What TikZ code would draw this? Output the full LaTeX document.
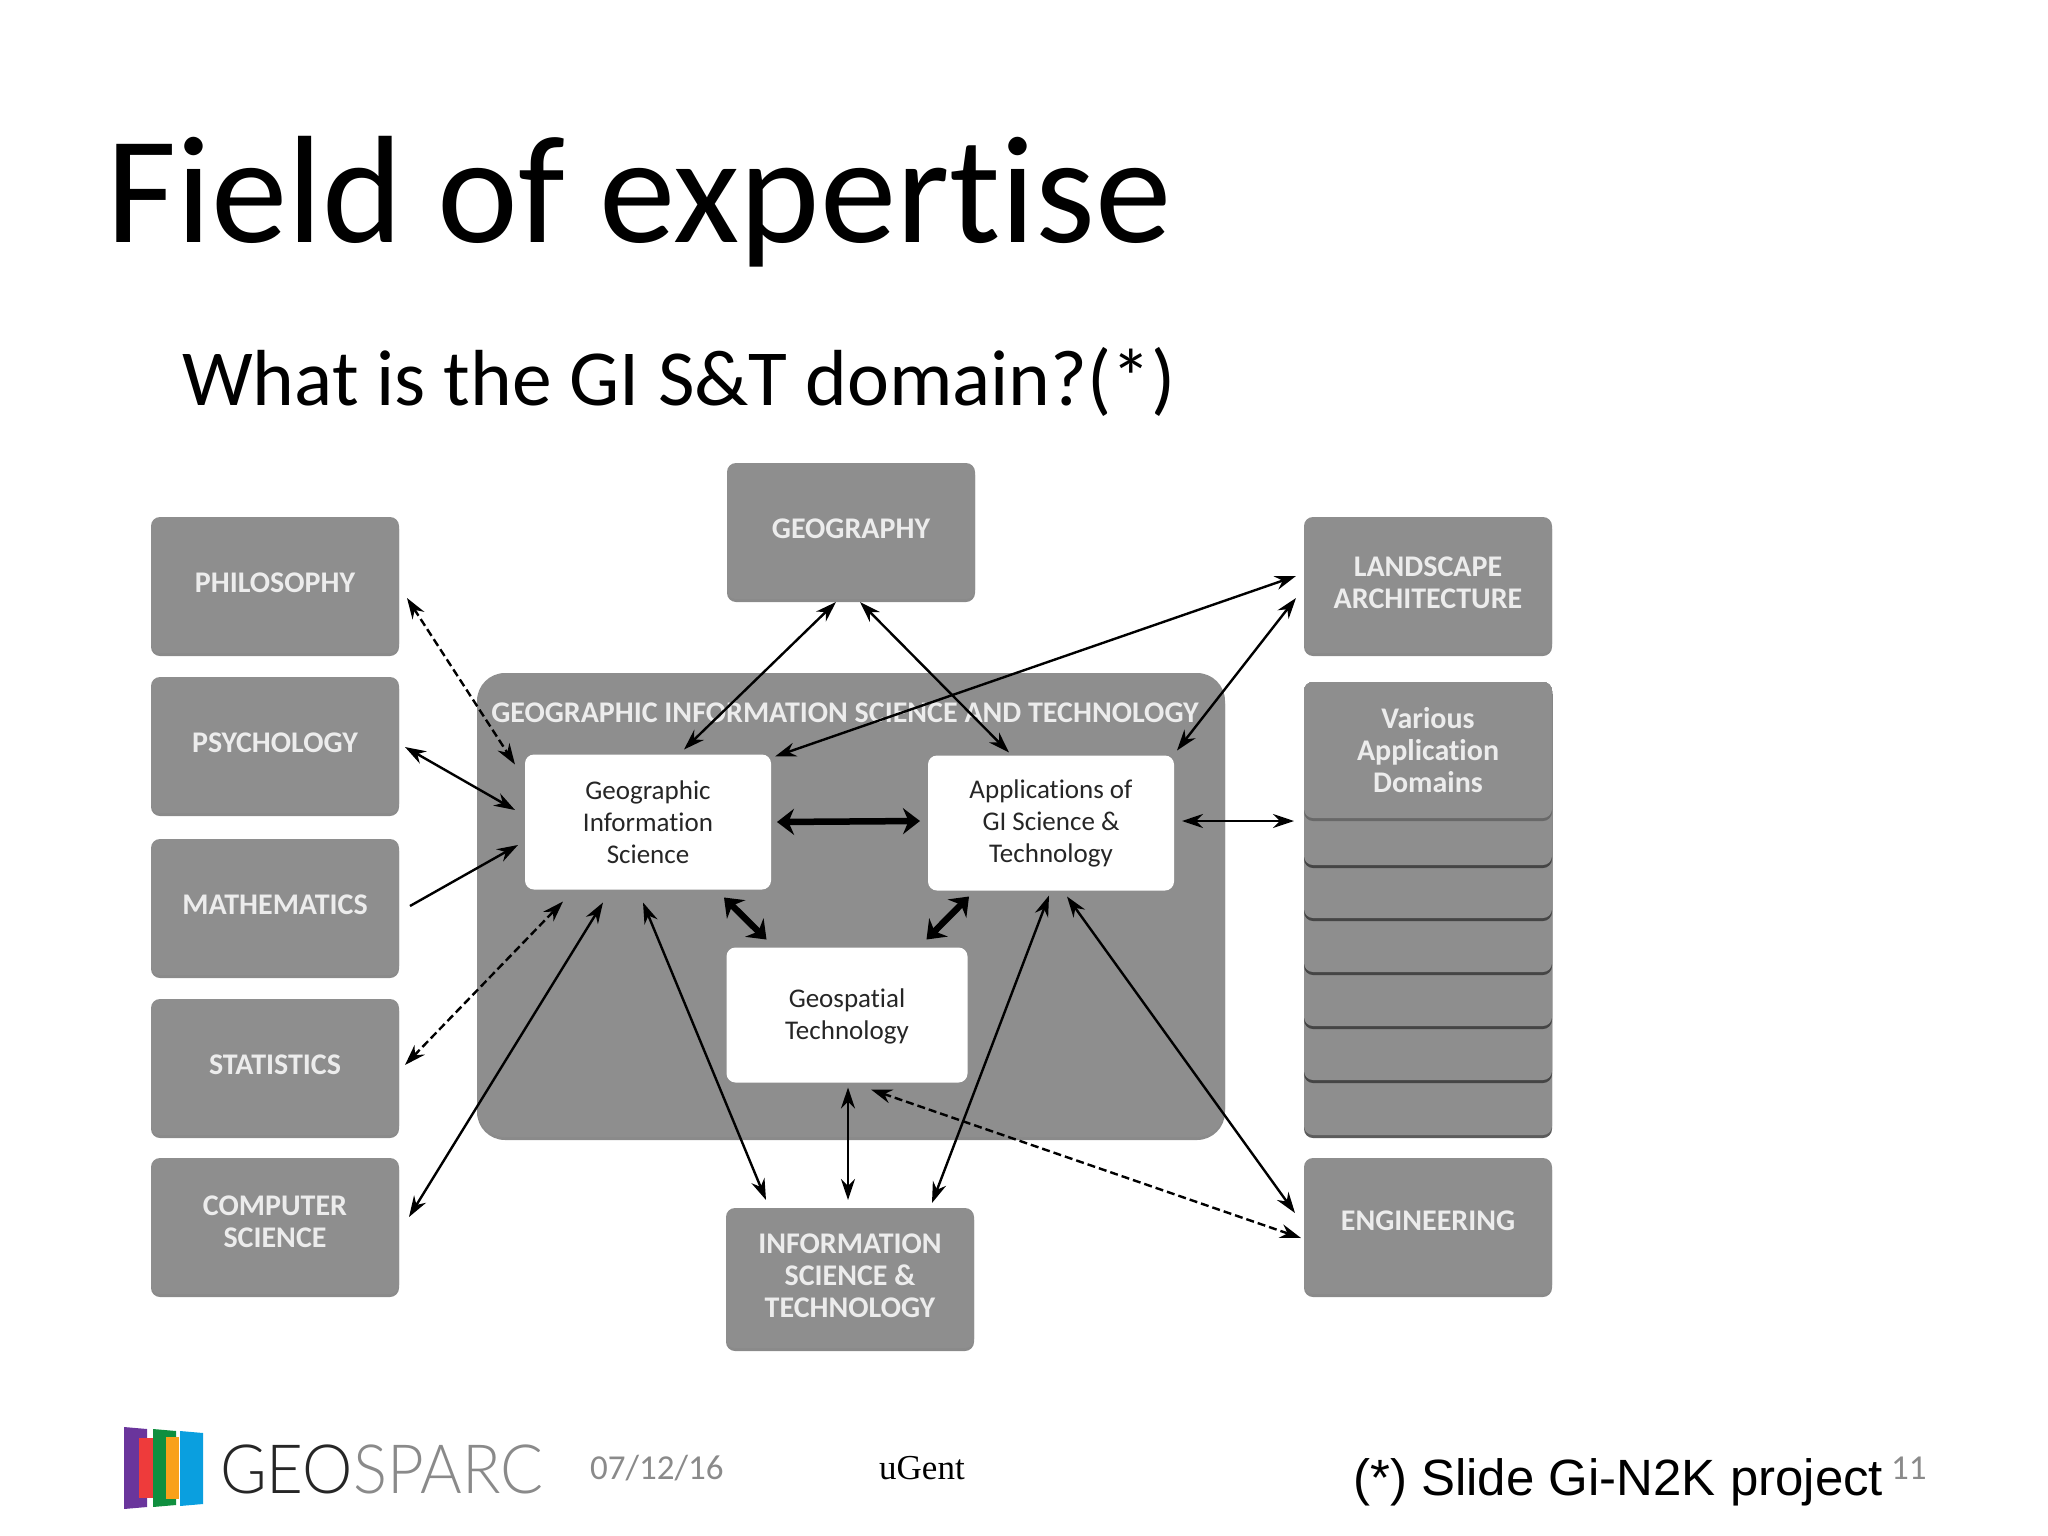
\documentclass[tikz,border=0pt]{standalone}
\usepackage{fontspec}
\setmainfont{Carlito}[Ligatures=CommonOff]
\newfontfamily\logofont{Lato Light}
\newfontfamily\arialfont{Liberation Sans}
\newfontfamily\timesfont{Liberation Serif}
\usetikzlibrary{arrows.meta}
\usetikzlibrary{shadows}
\definecolor{boxgray}{HTML}{8E8E8E}
\definecolor{labelgray}{HTML}{ECECEC}
\definecolor{footgray}{HTML}{8A8A8A}
\definecolor{logopurple}{HTML}{6A359C}
\definecolor{logored}{HTML}{EE3B3B}
\definecolor{logogreen}{HTML}{0F8F3F}
\definecolor{logoorange}{HTML}{F9A11B}
\definecolor{logoblue}{HTML}{0A9FDF}
\tikzset{
  graybox/.style={rectangle,rounded corners=9pt,fill=boxgray,inner sep=0pt,outer sep=0pt,
    minimum width=248pt,minimum height=136pt,text=labelgray,align=center,text depth=5pt,
    font=\fontsize{30}{32}\selectfont\bfseries,
    general shadow={fill=black!65,shadow yshift=-3pt,opacity=.7}},
  whitebox/.style={rectangle,rounded corners=9pt,fill=white,inner sep=0pt,outer sep=0pt,
    minimum width=246pt,minimum height=135pt,text=black!85,align=center,
    font=\fontsize{27}{32}\selectfont},
  link/.style={<->,line width=2.4pt},
  dashlink/.style={link,dash pattern=on 8pt off 4pt},
  thicklink/.style={<->,line width=6.5pt,>={Stealth[length=17pt,width=26pt]}}
}
\begin{document}
\begin{tikzpicture}[x=1pt,y=-1pt,>={Stealth[length=21pt,width=14pt]}]
  \useasboundingbox (0,0) rectangle (2048,1536);
  % slide heading
  \node[anchor=base west,inner sep=0pt,font=\fontsize{153}{155}\selectfont] (title) at (106,242) {Field of expertise};
  \node[anchor=base west,inner sep=0pt,font=\fontsize{79.5}{82}\selectfont] (subtitle) at (182,405) {What is the GI S\&T domain?(*)};
  % left column
  \node[graybox] (philosophy) at (275,585) {PHILOSOPHY};
  \node[graybox] (psychology) at (275,745) {PSYCHOLOGY};
  \node[graybox] (mathematics) at (275,907) {MATHEMATICS};
  \node[graybox] (statistics) at (275,1067) {STATISTICS};
  \node[graybox,text depth=8pt] (compsci) at (275,1226) {COMPUTER\\SCIENCE};
  % top and bottom
  \node[graybox,text depth=4pt] (geography) at (851,531) {GEOGRAPHY};
  \node[graybox,minimum height=140pt,text depth=4pt] (infosci) at (850,1278) {INFORMATION\\SCIENCE \&\\TECHNOLOGY};
  % right column
  \node[graybox] (landscape) at (1428,585) {LANDSCAPE\\ARCHITECTURE};
  \foreach \cardbottom in {1135,1080,1026,972,918,865}
    \fill[boxgray,rounded corners=9pt,general shadow={fill=black!80,shadow yshift=-3pt,opacity=.8}]
      (1304,682) rectangle (1552,\cardbottom);
  \node[graybox,text depth=0pt] (various) at (1428,750) {Various\\Application\\Domains};
  \node[graybox,text depth=10pt] (engineering) at (1428,1226) {ENGINEERING};
  % centre block
  \node[graybox,rounded corners=28pt,minimum width=748pt,minimum height=464pt] (gist) at (851,905) {};
  \node[text=labelgray,inner sep=0pt,font=\fontsize{30}{32}\selectfont\bfseries] (gisttitle) at (845,713) {GEOGRAPHIC INFORMATION SCIENCE AND TECHNOLOGY};
  \node[whitebox] (gis) at (648,822) {Geographic\\Information\\Science};
  \node[whitebox] (apps) at (1051,823) {Applications of\\GI Science \&\\Technology};
  \node[whitebox,minimum width=241pt,text depth=1pt] (geospatial) at (847,1015) {Geospatial\\Technology};
  % connectors
  \path[link]
    ([xshift=8pt,yshift=-13pt]philosophy.east) edge[dashlink] ([xshift=-10pt,yshift=-10pt]gis.north west);
  \path[link]
    ([xshift=6pt,yshift=-2pt]psychology.east) edge ([xshift=-10pt,yshift=12pt]gis.west);
  \path[->,line width=2.4pt]
    ([xshift=11pt,yshift=1pt]mathematics.east) edge ([xshift=-7pt,yshift=-23pt]gis.west);
  \path[link]
    ([xshift=6pt,yshift=2pt]statistics.east) edge[dashlink] ([xshift=38pt,yshift=-12pt]gis.south west);
  \path[link]
    ([xshift=10pt,yshift=9pt]compsci.east) edge ([xshift=-45pt,yshift=-13pt]gis.south);
  \path[link]
    ([xshift=-5pt,yshift=-13pt]gis.south) edge ([xshift=40pt,yshift=8pt]infosci.north west);
  \path[link]
    ([xshift=36pt,yshift=5pt]gis.north) edge ([xshift=-15pt,yshift=-3pt]geography.south);
  \path[link]
    ([xshift=9pt,yshift=-3pt]geography.south) edge ([xshift=-42pt,yshift=3pt]apps.north);
  \path[link]
    ([xshift=4pt,yshift=-2pt]gis.north east) edge ([xshift=-8pt,yshift=9pt]landscape.west);
  \path[link]
    ([xshift=3pt,yshift=5pt]apps.north east) edge ([xshift=-8pt,yshift=-13pt]landscape.west);
  \path[link]
    ([xshift=8pt,yshift=2pt]apps.east) edge ([xshift=-10pt,yshift=-71pt]various.west);
  \path[link]
    ([xshift=-2pt,yshift=-5pt]apps.south) edge ([xshift=-42pt,yshift=5pt]infosci.north east);
  \path[link]
    ([xshift=16pt,yshift=-6pt]apps.south) edge ([xshift=-9pt,yshift=13pt]engineering.west);
  \path[link]
    ([xshift=1pt,yshift=-5pt]geospatial.south) edge ([xshift=-2pt,yshift=8pt]infosci.north);
  \path[link]
    ([xshift=24pt,yshift=-7pt]geospatial.south) edge[dashlink] ([xshift=-3pt,yshift=-12pt]engineering.west);
  \path[thicklink]
    ([xshift=6pt]gis.east) edge ([xshift=-8pt,yshift=2pt]apps.west);
  \path[thicklink]
    ([xshift=-47pt,yshift=-8pt]gis.south east) edge ([xshift=40pt,yshift=8pt]geospatial.north west);
  \path[thicklink]
    ([xshift=41pt,yshift=-6pt]apps.south west) edge ([xshift=-41pt,yshift=8pt]geospatial.north east);
  % footer
  \fill[logopurple] (124,1427) -- (147,1429) -- (147,1507) -- (124,1509) -- cycle;
  \fill[logored] (139,1438) rectangle (153,1498);
  \fill[logogreen] (153,1429) -- (176,1431) -- (176,1505) -- (153,1507) -- cycle;
  \fill[logoorange] (166,1437) rectangle (179,1499);
  \fill[logoblue] (180,1431) -- (203,1433) -- (203,1504) -- (180,1506) -- cycle;
  \node[anchor=base west,inner sep=0pt,font=\logofont\fontsize{68}{70}\selectfont] (logo) at (220,1493) {\scalebox{.935}[1]{\textcolor{black!85}{GEO}\textcolor{footgray}{SPARC}}};
  \node[anchor=base west,inner sep=0pt,text=footgray,font=\fontsize{35}{40}\selectfont] (date) at (590,1479) {07/12/16};
  \node[anchor=base west,inner sep=0pt,font=\timesfont\fontsize{35}{40}\selectfont] (place) at (879,1479) {uGent};
  \node[anchor=base west,inner sep=0pt,font=\arialfont\fontsize{51}{54}\selectfont] (source) at (1353,1495) {(*) Slide Gi-N2K project};
  \node[anchor=base west,inner sep=0pt,text=footgray,font=\fontsize{35}{40}\selectfont] (pageno) at (1891,1479) {11};
\end{tikzpicture}
\end{document}
